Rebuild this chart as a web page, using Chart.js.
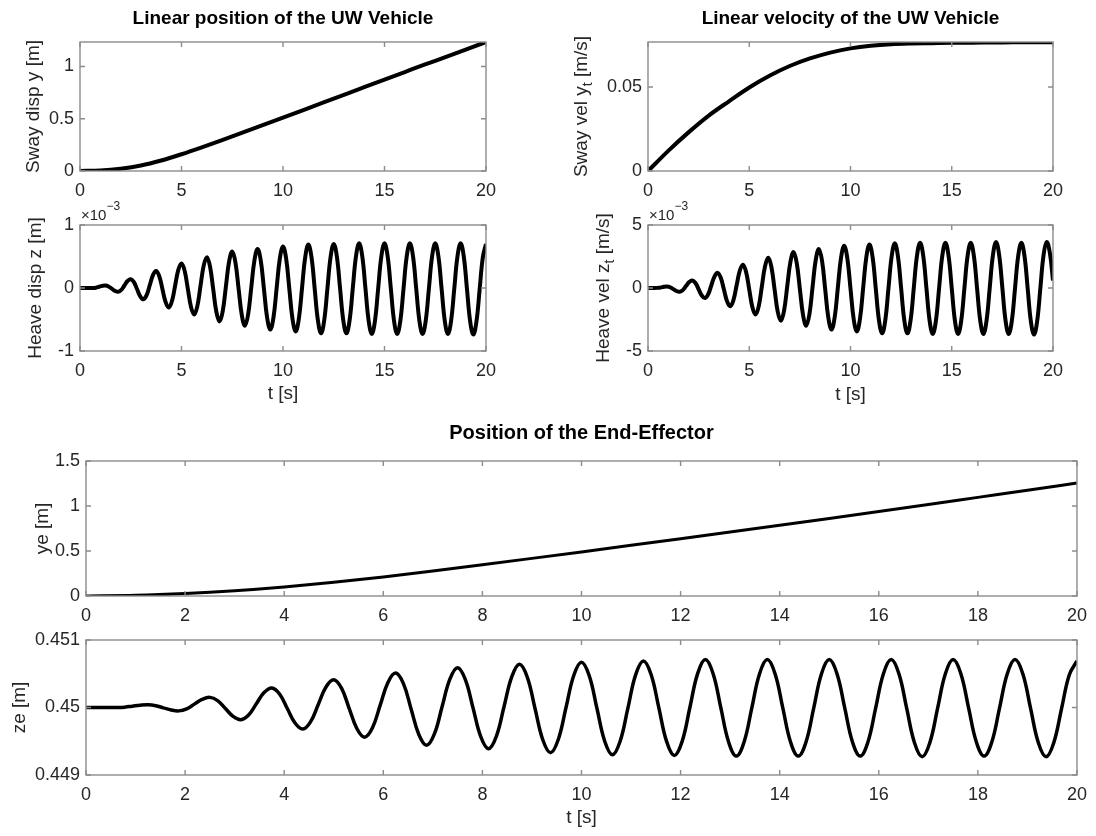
<!DOCTYPE html>
<html lang="en">
<head>
<meta charset="UTF-8">
<title>UW Vehicle and End-Effector response</title>
<script src="https://cdn.jsdelivr.net/npm/chart.js"></script>
<style>
  body { margin: 0; background: #fff; }
  #wrap { position: relative; width: 1096px; height: 836px; }
  #wrap canvas { position: absolute; left: 0; top: 0; }
</style>
</head>
<body>
<div id="wrap">
  <canvas id="swayDisp" width="1096" height="836"></canvas>
  <canvas id="swayVel" width="1096" height="836"></canvas>
  <canvas id="heaveDisp" width="1096" height="836"></canvas>
  <canvas id="heaveVel" width="1096" height="836"></canvas>
  <canvas id="yePos" width="1096" height="836"></canvas>
  <canvas id="zePos" width="1096" height="836"></canvas>
</div>

<script>
// time samples for the smooth curves (s)
const tSmooth = [0, 1, 2, 3, 4, 5, 6, 7, 8, 9, 10, 11, 12, 13, 14, 15, 16, 17, 18, 19, 20];
// time samples for the oscillating curves, 8 per 1.25 s period (s)
const tWave = [
  0, 0.15625, 0.3125, 0.46875, 0.625, 0.78125, 0.9375, 1.09375,
  1.25, 1.40625, 1.5625, 1.71875, 1.875, 2.03125, 2.1875, 2.34375,
  2.5, 2.65625, 2.8125, 2.96875, 3.125, 3.28125, 3.4375, 3.59375,
  3.75, 3.90625, 4.0625, 4.21875, 4.375, 4.53125, 4.6875, 4.84375,
  5, 5.15625, 5.3125, 5.46875, 5.625, 5.78125, 5.9375, 6.09375,
  6.25, 6.40625, 6.5625, 6.71875, 6.875, 7.03125, 7.1875, 7.34375,
  7.5, 7.65625, 7.8125, 7.96875, 8.125, 8.28125, 8.4375, 8.59375,
  8.75, 8.90625, 9.0625, 9.21875, 9.375, 9.53125, 9.6875, 9.84375,
  10, 10.15625, 10.3125, 10.46875, 10.625, 10.78125, 10.9375, 11.09375,
  11.25, 11.40625, 11.5625, 11.71875, 11.875, 12.03125, 12.1875, 12.34375,
  12.5, 12.65625, 12.8125, 12.96875, 13.125, 13.28125, 13.4375, 13.59375,
  13.75, 13.90625, 14.0625, 14.21875, 14.375, 14.53125, 14.6875, 14.84375,
  15, 15.15625, 15.3125, 15.46875, 15.625, 15.78125, 15.9375, 16.09375,
  16.25, 16.40625, 16.5625, 16.71875, 16.875, 17.03125, 17.1875, 17.34375,
  17.5, 17.65625, 17.8125, 17.96875, 18.125, 18.28125, 18.4375, 18.59375,
  18.75, 18.90625, 19.0625, 19.21875, 19.375, 19.53125, 19.6875, 19.84375,
  20];

// sway displacement y [m]
const swayDisp = [0, 0.005, 0.022, 0.052, 0.1, 0.16, 0.226, 0.295, 0.366, 0.438, 0.51,
  0.583, 0.656, 0.729, 0.802, 0.875, 0.947, 1.019, 1.09, 1.162, 1.234];
// sway velocity y_t [m/s]
const swayVel = [0, 0.012, 0.023, 0.033, 0.0415, 0.0497, 0.0567, 0.0625, 0.067, 0.0705, 0.073,
  0.0746, 0.0755, 0.0759, 0.0761, 0.0763, 0.0764, 0.0765, 0.0766, 0.0767, 0.0767];
// heave displacement z [m] x 1e-3
const heaveDisp = [
  0, 0, 0, 0, 0, 0.005, 0.02, 0.034,
  0.04, 0.025, -0.01, -0.045, -0.06, -0.031, 0.04, 0.111,
  0.14, 0.093, -0.02, -0.133, -0.18, -0.114, 0.045, 0.204,
  0.27, 0.185, -0.02, -0.225, -0.31, -0.207, 0.04, 0.288,
  0.39, 0.272, -0.015, -0.301, -0.42, -0.287, 0.035, 0.356,
  0.49, 0.34, -0.02, -0.381, -0.53, -0.368, 0.025, 0.417,
  0.58, 0.407, -0.01, -0.427, -0.6, -0.421, 0.01, 0.441,
  0.62, 0.432, -0.02, -0.473, -0.66, -0.467, 0, 0.467,
  0.66, 0.463, -0.015, -0.492, -0.69, -0.488, 0, 0.488,
  0.69, 0.484, -0.015, -0.513, -0.72, -0.512, -0.01, 0.492,
  0.7, 0.492, -0.01, -0.512, -0.72, -0.51, -0.005, 0.501,
  0.71, 0.499, -0.01, -0.519, -0.73, -0.519, -0.01, 0.499,
  0.71, 0.499, -0.01, -0.519, -0.73, -0.519, -0.01, 0.499,
  0.71, 0.499, -0.01, -0.519, -0.73, -0.519, -0.01, 0.499,
  0.71, 0.499, -0.01, -0.519, -0.73, -0.519, -0.01, 0.499,
  0.71, 0.498, -0.015, -0.527, -0.74, -0.529, -0.02, 0.489,
  0.7];
// heave velocity z_t [m/s] x 1e-3
const heaveVel = [
  0, 0, 0, 0.01, 0.03, 0.094, 0.12, 0.059,
  -0.09, -0.238, -0.3, -0.168, 0.15, 0.468, 0.6, 0.395,
  -0.1, -0.595, -0.8, -0.507, 0.2, 0.907, 1.2, 0.811,
  -0.125, -1.062, -1.45, -0.966, 0.2, 1.367, 1.85, 1.271,
  -0.125, -1.522, -2.1, -1.441, 0.15, 1.741, 2.4, 1.668,
  -0.1, -1.867, -2.6, -1.801, 0.125, 2.052, 2.85, 1.993,
  -0.075, -2.143, -3, -2.106, 0.05, 2.207, 3.1, 2.163,
  -0.1, -2.362, -3.3, -2.326, 0.025, 2.375, 3.35, 2.353,
  -0.05, -2.454, -3.45, -2.439, 0, 2.439, 3.45, 2.417,
  -0.075, -2.567, -3.6, -2.552, -0.025, 2.503, 3.55, 2.503,
  -0.025, -2.552, -3.6, -2.545, 0, 2.545, 3.6, 2.538,
  -0.025, -2.588, -3.65, -2.588, -0.025, 2.538, 3.6, 2.538,
  -0.025, -2.588, -3.65, -2.588, -0.025, 2.538, 3.6, 2.538,
  -0.025, -2.588, -3.65, -2.581, 0, 2.581, 3.65, 2.581,
  0, -2.581, -3.65, -2.588, -0.025, 2.538, 3.6, 2.53,
  -0.05, -2.631, -3.7, -2.623, -0.025, 2.574, 3.65, 2.8,
  0.6];
// end-effector position ye [m]
const yePos = [0, 0.007, 0.027, 0.058, 0.1, 0.152, 0.212, 0.278, 0.347, 0.418, 0.49,
  0.563, 0.637, 0.712, 0.787, 0.862, 0.939, 1.017, 1.096, 1.175, 1.255];
// end-effector position ze [m]
const zePos = [
  0.45, 0.45, 0.45, 0.45, 0.45, 0.450005, 0.45002, 0.450034,
  0.45004, 0.450027, 0.449995, 0.449963, 0.44995, 0.449979, 0.45005, 0.450121,
  0.45015, 0.450102, 0.449985, 0.449869, 0.44982, 0.449889, 0.450055, 0.450221,
  0.45029, 0.450201, 0.449985, 0.44977, 0.44968, 0.449787, 0.450045, 0.450303,
  0.45041, 0.450286, 0.449985, 0.449685, 0.44956, 0.449699, 0.450035, 0.450371,
  0.45051, 0.450354, 0.449975, 0.449597, 0.44944, 0.449608, 0.450015, 0.450421,
  0.45059, 0.450414, 0.44999, 0.449566, 0.44939, 0.449573, 0.450015, 0.450456,
  0.45064, 0.450448, 0.449985, 0.449522, 0.44933, 0.449526, 0.45, 0.450474,
  0.45067, 0.45047, 0.449985, 0.449501, 0.4493, 0.449504, 0.449995, 0.450487,
  0.45069, 0.450485, 0.44999, 0.449495, 0.44929, 0.449498, 0.45, 0.450502,
  0.45071, 0.450501, 0.449995, 0.44949, 0.44928, 0.44949, 0.449995, 0.450501,
  0.45071, 0.450501, 0.449995, 0.44949, 0.44928, 0.44949, 0.449995, 0.450501,
  0.45071, 0.450501, 0.449995, 0.44949, 0.44928, 0.44949, 0.449995, 0.450501,
  0.45071, 0.450499, 0.44999, 0.449481, 0.44927, 0.449481, 0.44999, 0.450499,
  0.45071, 0.450501, 0.449995, 0.44949, 0.44928, 0.44949, 0.449995, 0.450501,
  0.45071, 0.450499, 0.44999, 0.449481, 0.44927, 0.449478, 0.44998, 0.450482,
  0.45069];

const FONT = '"Liberation Sans", Arial, Helvetica, sans-serif';
const INK = '#262626';

// matlab-like box: frame, inward ticks on all sides, title, y label with subscripts, exponent
const matlabFrame = {
  id: 'matlabFrame',
  afterDraw(chart, args, o) {
    const { ctx, chartArea: a } = chart;
    const sx = chart.scales.x, sy = chart.scales.y;
    ctx.save();
    ctx.strokeStyle = '#8c8c8c';
    ctx.lineWidth = 1.4;
    ctx.strokeRect(a.left, a.top, a.right - a.left, a.bottom - a.top);
    ctx.beginPath();
    sx.ticks.forEach(t => {
      const p = sx.getPixelForValue(t.value);
      ctx.moveTo(p, a.bottom); ctx.lineTo(p, a.bottom - 5);
      ctx.moveTo(p, a.top); ctx.lineTo(p, a.top + 5);
    });
    sy.ticks.forEach(t => {
      const p = sy.getPixelForValue(t.value);
      ctx.moveTo(a.left, p); ctx.lineTo(a.left + 5, p);
      ctx.moveTo(a.right, p); ctx.lineTo(a.right - 5, p);
    });
    ctx.stroke();

    if (o.title) {
      ctx.fillStyle = '#000';
      ctx.font = 'bold ' + o.titleSize + 'px ' + FONT;
      ctx.textAlign = 'center';
      ctx.textBaseline = 'middle';
      ctx.fillText(o.title, (a.left + a.right) / 2, a.top - o.titleGap);
    }

    if (o.exponent) {
      ctx.fillStyle = INK;
      ctx.textAlign = 'left';
      ctx.textBaseline = 'alphabetic';
      ctx.font = '15px ' + FONT;
      ctx.fillText('\u00d710', a.left + 1, a.top - 5);
      const w = ctx.measureText('\u00d710').width;
      ctx.font = '12px ' + FONT;
      ctx.fillText(o.exponent, a.left + 1 + w, a.top - 15);
    }

    // rotated y label, parts are [text, isSubscript]
    ctx.translate(o.yTitleX, (a.top + a.bottom) / 2);
    ctx.rotate(-Math.PI / 2);
    const big = '19px ' + FONT, small = '14px ' + FONT;
    let w = 0;
    o.yTitle.forEach(([s, sub]) => { ctx.font = sub ? small : big; w += ctx.measureText(s).width; });
    let x = -w / 2;
    ctx.fillStyle = INK;
    ctx.textAlign = 'left';
    ctx.textBaseline = 'middle';
    o.yTitle.forEach(([s, sub]) => {
      ctx.font = sub ? small : big;
      ctx.fillText(s, x, sub ? 6 : 0);
      x += ctx.measureText(s).width;
    });
    ctx.restore();
  }
};

const fmt = v => String(parseFloat(Number(v).toFixed(4)));

function panel(id, o) {
  const W = 60;
  const H = o.xTitle ? (o.xTitleY - o.area.bottom + 11.4) : 32;
  return new Chart(document.getElementById(id), {
    type: 'line',
    data: {
      datasets: [{
        data: o.t.map((t, i) => ({ x: t, y: o.v[i] })),
        borderColor: '#000',
        borderWidth: o.lw || 3.5,
        pointRadius: 0,
        tension: o.tension || 0,
        cubicInterpolationMode: o.mode || 'default'
      }]
    },
    options: {
      responsive: false,
      animation: false,
      devicePixelRatio: 1,
      layout: {
        padding: {
          left: o.area.left - W,
          top: o.area.top,
          right: 1096 - o.area.right,
          bottom: 836 - o.area.bottom - H
        }
      },
      scales: {
        x: {
          type: 'linear', min: 0, max: 20,
          grid: { display: false, drawTicks: false },
          border: { display: false },
          ticks: { stepSize: o.xStep, padding: 9, color: INK, maxRotation: 0, autoSkip: false,
                   font: { family: FONT, size: 18 }, callback: fmt },
          title: { display: !!o.xTitle, text: o.xTitle || '', color: INK, padding: 0,
                   font: { family: FONT, size: 19 } },
          afterFit: s => { s.height = H; }
        },
        y: {
          type: 'linear', min: o.yMin, max: o.yMax,
          grid: { display: false, drawTicks: false },
          border: { display: false },
          ticks: { stepSize: o.yStep, padding: 6, color: INK, includeBounds: false,
                   font: { family: FONT, size: 18 }, callback: fmt },
          afterFit: s => { s.width = W; }
        }
      },
      plugins: {
        legend: { display: false },
        tooltip: { enabled: false },
        matlabFrame: {
          title: o.title, titleSize: o.titleSize || 19, titleGap: o.titleGap || 23,
          yTitle: o.yTitle, yTitleX: o.yTitleX, exponent: o.exponent
        }
      }
    },
    plugins: [matlabFrame]
  });
}

panel('swayDisp', {
  t: tSmooth, v: swayDisp, mode: 'monotone', lw: 4,
  area: { left: 80, top: 42, right: 486, bottom: 171 },
  yMin: 0, yMax: 1.234, yStep: 0.5, xStep: 5,
  title: 'Linear position of the UW Vehicle',
  yTitle: [['Sway disp y [m]', false]], yTitleX: 34
});

panel('swayVel', {
  t: tSmooth, v: swayVel, mode: 'monotone', lw: 4,
  area: { left: 648, top: 42, right: 1053, bottom: 171 },
  yMin: 0, yMax: 0.0768, yStep: 0.05, xStep: 5,
  title: 'Linear velocity of the UW Vehicle',
  yTitle: [['Sway vel y', false], ['t', true], [' [m/s]', false]], yTitleX: 582
});

panel('heaveDisp', {
  t: tWave, v: heaveDisp, tension: 0.4, lw: 4,
  area: { left: 80, top: 225, right: 486, bottom: 351 },
  yMin: -1, yMax: 1, yStep: 1, xStep: 5,
  xTitle: 't [s]', xTitleY: 394, exponent: '\u22123',
  yTitle: [['Heave disp z [m]', false]], yTitleX: 36
});

panel('heaveVel', {
  t: tWave, v: heaveVel, tension: 0.4, lw: 4,
  area: { left: 648, top: 225, right: 1053, bottom: 351 },
  yMin: -5, yMax: 5, yStep: 5, xStep: 5,
  xTitle: 't [s]', xTitleY: 395, exponent: '\u22123',
  yTitle: [['Heave vel z', false], ['t', true], [' [m/s]', false]], yTitleX: 604
});

panel('yePos', {
  t: tSmooth, v: yePos, mode: 'monotone', lw: 3,
  area: { left: 86, top: 461, right: 1084, bottom: 596 },
  yMin: 0, yMax: 1.5, yStep: 0.5, xStep: 2,
  title: 'Position of the End-Effector', titleSize: 20, titleGap: 28,
  yTitle: [['ye [m]', false]], yTitleX: 43
});

panel('zePos', {
  t: tWave, v: zePos, tension: 0.4, lw: 3.5,
  area: { left: 86, top: 640, right: 1084, bottom: 775 },
  yMin: 0.449, yMax: 0.451, yStep: 0.001, xStep: 2,
  xTitle: 't [s]', xTitleY: 818,
  yTitle: [['ze [m]', false]], yTitleX: 20
});
</script>
</body>
</html>
